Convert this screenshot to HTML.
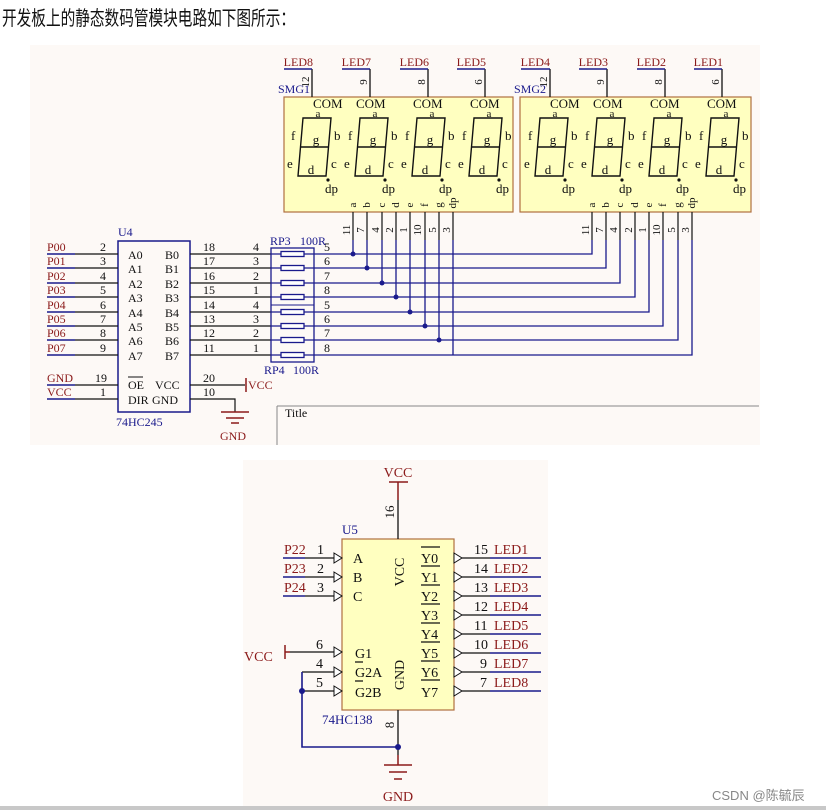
<!DOCTYPE html>
<html><head><meta charset="utf-8"><style>
html,body{margin:0;padding:0;background:#fff;}
svg{display:block;}
text{font-family:"Liberation Serif",serif;}
.r{fill:#8b1a1a;}
.b{fill:#1a1a8c;}
.k{fill:#111;}
</style></head><body>
<svg width="826" height="810" viewBox="0 0 826 810" xmlns="http://www.w3.org/2000/svg">
<rect width="826" height="810" fill="#fff"/>
<text x="2" y="25" font-size="20" textLength="293" lengthAdjust="spacingAndGlyphs" style="font-family:'Liberation Sans','Noto Sans CJK SC',sans-serif" fill="#111">开发板上的静态数码管模块电路如下图所示：</text>
<rect x="30" y="45" width="730" height="400" fill="#fdf9f6"/>
<rect x="243" y="460" width="305" height="346" fill="#fdf9f6"/>
<rect x="0" y="806" width="826" height="4" fill="#c8c8c8"/>
<text x="712" y="800" font-size="13" fill="#888" style="font-family:'Liberation Sans','Noto Sans CJK SC',sans-serif">CSDN @陈毓辰</text>

<!-- SMG boxes -->
<rect x="284" y="97" width="229" height="115" fill="#ffffc0" stroke="#b07040" stroke-width="1.2"/>
<rect x="520" y="97" width="231" height="115" fill="#ffffc0" stroke="#b07040" stroke-width="1.2"/>
<text x="278" y="93" font-size="12" class="b">SMG1</text>
<text x="514" y="93" font-size="12" class="b">SMG2</text>

<defs>
<g id="dg">
<path d="M0,118 L28,118 L25.5,147 L23,176 L-5,176 L-2.5,147 Z M-2.5,147 L25.5,147" fill="none" stroke="#111" stroke-width="1.4"/>
<text x="15" y="117" font-size="11" text-anchor="middle" class="k">a</text>
<text x="-12" y="140" font-size="13" class="k">f</text>
<text x="31" y="140" font-size="13" class="k">b</text>
<text x="13" y="144" font-size="13" text-anchor="middle" class="k">g</text>
<text x="-16" y="168" font-size="13" class="k">e</text>
<text x="28" y="168" font-size="13" class="k">c</text>
<text x="8" y="174" font-size="13" text-anchor="middle" class="k">d</text>
<circle cx="25" cy="180" r="1.6" fill="#111"/>
<text x="22" y="193" font-size="13" class="k">dp</text>
</g>
</defs>
<g>
<use href="#dg" x="303"/><use href="#dg" x="360"/><use href="#dg" x="417"/><use href="#dg" x="474"/>
<use href="#dg" x="540"/><use href="#dg" x="597"/><use href="#dg" x="654"/><use href="#dg" x="711"/>
</g>
<g font-size="13" class="k">
<text x="313" y="108" class="k">COM</text><text x="356" y="108" class="k">COM</text><text x="413" y="108" class="k">COM</text><text x="470" y="108" class="k">COM</text>
<text x="550" y="108" class="k">COM</text><text x="593" y="108" class="k">COM</text><text x="650" y="108" class="k">COM</text><text x="707" y="108" class="k">COM</text>
</g>
<g stroke="#111" stroke-width="1.3" fill="none">
<path d="M312,97V69"/><path d="M370,97V69"/><path d="M428,97V69"/><path d="M485,97V69"/>
<path d="M550,97V69"/><path d="M607,97V69"/><path d="M665,97V69"/><path d="M722,97V69"/>
</g>
<g stroke="#1a1a8c" stroke-width="1.5">
<path d="M284,69H312"/><path d="M342,69H370"/><path d="M400,69H428"/><path d="M457,69H485"/>
<path d="M521,69H550"/><path d="M579,69H607"/><path d="M637,69H665"/><path d="M694,69H722"/>
</g>
<g font-size="12" class="r" text-anchor="end">
<text x="313" y="66">LED8</text><text x="371" y="66">LED7</text><text x="429" y="66">LED6</text><text x="486" y="66">LED5</text>
<text x="550" y="66">LED4</text><text x="608" y="66">LED3</text><text x="666" y="66">LED2</text><text x="723" y="66">LED1</text>
</g>
<g font-size="11" class="k" text-anchor="middle">
<text transform="translate(309,82) rotate(-90)">12</text><text transform="translate(367,82) rotate(-90)">9</text><text transform="translate(425,82) rotate(-90)">8</text><text transform="translate(482,82) rotate(-90)">6</text>
<text transform="translate(547,82) rotate(-90)">12</text><text transform="translate(604,82) rotate(-90)">9</text><text transform="translate(662,82) rotate(-90)">8</text><text transform="translate(719,82) rotate(-90)">6</text>
</g>

<g font-size="11" class="k" text-anchor="middle">
<text transform="translate(356,205) rotate(-90)">a</text><text transform="translate(370,205) rotate(-90)">b</text><text transform="translate(385,205) rotate(-90)">c</text><text transform="translate(399,205) rotate(-90)">d</text>
<text transform="translate(413,205) rotate(-90)">e</text><text transform="translate(428,205) rotate(-90)">f</text><text transform="translate(442,205) rotate(-90)">g</text><text transform="translate(456,203) rotate(-90)">dp</text>
<text transform="translate(595,205) rotate(-90)">a</text><text transform="translate(609,205) rotate(-90)">b</text><text transform="translate(623,205) rotate(-90)">c</text><text transform="translate(638,205) rotate(-90)">d</text>
<text transform="translate(652,205) rotate(-90)">e</text><text transform="translate(666,205) rotate(-90)">f</text><text transform="translate(681,205) rotate(-90)">g</text><text transform="translate(695,203) rotate(-90)">dp</text>
<text transform="translate(350,230) rotate(-90)">11</text><text transform="translate(364,230) rotate(-90)">7</text><text transform="translate(379,230) rotate(-90)">4</text><text transform="translate(393,230) rotate(-90)">2</text>
<text transform="translate(407,230) rotate(-90)">1</text><text transform="translate(421,230) rotate(-90)">10</text><text transform="translate(436,230) rotate(-90)">5</text><text transform="translate(450,230) rotate(-90)">3</text>
<text transform="translate(589,230) rotate(-90)">11</text><text transform="translate(603,230) rotate(-90)">7</text><text transform="translate(617,230) rotate(-90)">4</text><text transform="translate(632,230) rotate(-90)">2</text>
<text transform="translate(646,230) rotate(-90)">1</text><text transform="translate(660,230) rotate(-90)">10</text><text transform="translate(675,230) rotate(-90)">5</text><text transform="translate(689,230) rotate(-90)">3</text>
</g>
<g stroke="#111" stroke-width="1.2">
<path d="M353,212V240M367,212V240M382,212V240M396,212V240M410,212V240M425,212V240M439,212V240M453,212V240"/>
<path d="M592,212V240M606,212V240M620,212V240M635,212V240M649,212V240M663,212V240M678,212V240M692,212V240"/>
</g>
<g stroke="#1a1a8c" stroke-width="1.3" fill="none">
<path d="M353,240V254M367,240V268M382,240V283M396,240V297M410,240V312M425,240V326M439,240V340M453,240V355"/>
<path d="M314,254H592V240M314,268H606V240M314,283H620V240M314,297H635V240M314,312H649V240M314,326H663V240M314,340H678V240M314,355H692V240"/>
</g>
<g fill="#1a1a8c">
<circle cx="353" cy="254" r="2.5"/><circle cx="367" cy="268" r="2.5"/><circle cx="382" cy="283" r="2.5"/><circle cx="396" cy="297" r="2.5"/>
<circle cx="410" cy="312" r="2.5"/><circle cx="425" cy="326" r="2.5"/><circle cx="439" cy="340" r="2.5"/>
</g>

<!-- U4 -->
<rect x="118" y="241" width="72" height="171" fill="none" stroke="#1a1a8c" stroke-width="1.5"/>
<text x="118" y="236" font-size="12" class="b">U4</text>
<text x="116" y="426" font-size="12" class="b">74HC245</text>
<g stroke="#111" stroke-width="1.2" fill="none">
<path d="M75,254H118M75,268H118M75,283H118M75,297H118M75,312H118M75,326H118M75,340H118M75,355H118M75,385H118M75,399H118"/>
<path d="M190,254H271M190,268H271M190,283H271M190,297H271M190,312H271M190,326H271M190,340H271M190,355H271"/>
<path d="M190,385H245M190,399H235V412"/>
</g>
<g stroke="#1a1a8c" stroke-width="1.5">
<path d="M47,254H75M47,268H75M47,283H75M47,297H75M47,312H75M47,326H75M47,340H75M47,355H75M47,385H75M47,399H75"/>
</g>
<g font-size="12" class="r">
<text x="47" y="251">P00</text><text x="47" y="265">P01</text><text x="47" y="280">P02</text><text x="47" y="294">P03</text>
<text x="47" y="309">P04</text><text x="47" y="323">P05</text><text x="47" y="337">P06</text><text x="47" y="352">P07</text>
<text x="47" y="382">GND</text><text x="47" y="396">VCC</text>
</g>
<g font-size="12" class="k" text-anchor="middle">
<text x="103" y="251">2</text><text x="103" y="265">3</text><text x="103" y="280">4</text><text x="103" y="294">5</text>
<text x="103" y="309">6</text><text x="103" y="323">7</text><text x="103" y="337">8</text><text x="103" y="352">9</text>
<text x="101" y="382">19</text><text x="103" y="396">1</text>
<text x="209" y="251">18</text><text x="209" y="265">17</text><text x="209" y="280">16</text><text x="209" y="294">15</text>
<text x="209" y="309">14</text><text x="209" y="323">13</text><text x="209" y="337">12</text><text x="209" y="352">11</text>
<text x="209" y="382">20</text><text x="209" y="396">10</text>
<text x="256" y="251">4</text><text x="256" y="265">3</text><text x="256" y="280">2</text><text x="256" y="294">1</text>
<text x="256" y="309">4</text><text x="256" y="323">3</text><text x="256" y="337">2</text><text x="256" y="352">1</text>
<text x="327" y="251">5</text><text x="327" y="265">6</text><text x="327" y="280">7</text><text x="327" y="294">8</text>
<text x="327" y="309">5</text><text x="327" y="323">6</text><text x="327" y="337">7</text><text x="327" y="352">8</text>
</g>
<g font-size="12" class="k">
<text x="128" y="259">A0</text><text x="128" y="273">A1</text><text x="128" y="288">A2</text><text x="128" y="302">A3</text>
<text x="128" y="317">A4</text><text x="128" y="331">A5</text><text x="128" y="345">A6</text><text x="128" y="360">A7</text>
<text x="165" y="259">B0</text><text x="165" y="273">B1</text><text x="165" y="288">B2</text><text x="165" y="302">B3</text>
<text x="165" y="317">B4</text><text x="165" y="331">B5</text><text x="165" y="345">B6</text><text x="165" y="360">B7</text>
<text x="128" y="389">OE</text><text x="155" y="389">VCC</text>
<text x="128" y="404">DIR</text><text x="152" y="404">GND</text>
</g>
<path d="M128,377H143" stroke="#111" stroke-width="1"/>
<path d="M246,378V392" stroke="#8b1a1a" stroke-width="1.5"/>
<text x="248" y="389" font-size="12" class="r">VCC</text>
<g stroke="#8b1a1a" stroke-width="1.5"><path d="M221,412H249M226,418H244M231,423H239"/></g>
<text x="220" y="440" font-size="12" class="r">GND</text>
<!-- RP -->
<rect x="271" y="248" width="43" height="114" fill="none" stroke="#1a1a8c" stroke-width="1.3"/>
<path d="M271,305H314" stroke="#1a1a8c" stroke-width="1"/>
<g fill="#fff" stroke="#1a1a8c" stroke-width="1.3">
<rect x="281" y="251.5" width="23" height="5"/><rect x="281" y="265.5" width="23" height="5"/><rect x="281" y="280.5" width="23" height="5"/><rect x="281" y="294.5" width="23" height="5"/>
<rect x="281" y="309.5" width="23" height="5"/><rect x="281" y="323.5" width="23" height="5"/><rect x="281" y="337.5" width="23" height="5"/><rect x="281" y="352.5" width="23" height="5"/>
</g>
<g stroke="#1a1a8c" stroke-width="1.2"><path d="M271,254H281M304,254H314M271,268H281M304,268H314M271,283H281M304,283H314M271,297H281M304,297H314M271,312H281M304,312H314M271,326H281M304,326H314M271,340H281M304,340H314M271,355H281M304,355H314"/></g>
<text x="270" y="245" font-size="12" class="b">RP3</text><text x="300" y="245" font-size="12" class="b">100R</text>
<text x="264" y="374" font-size="12" class="b">RP4</text><text x="293" y="374" font-size="12" class="b">100R</text>
<path d="M277,406V445M277,406H759" stroke="#888" stroke-width="1"/>
<text x="285" y="417" font-size="12" class="k">Title</text>

<!-- U5 -->
<rect x="342" y="539" width="112" height="171" fill="#ffffc0" stroke="#b07040" stroke-width="1.2"/>
<text x="342" y="534" font-size="13" class="b">U5</text>
<text x="322" y="724" font-size="13" class="b">74HC138</text>
<path d="M398,539V500" stroke="#111" stroke-width="1.3"/>
<path d="M398,500V482M389,482H408" stroke="#8b1a1a" stroke-width="1.5"/>
<text x="398" y="477" font-size="14" text-anchor="middle" class="r">VCC</text>
<text transform="translate(394,512) rotate(-90)" font-size="13" text-anchor="middle" class="k">16</text>
<g stroke="#111" stroke-width="1.3" fill="none">
<path d="M305,558H334M305,577H334M305,596H334M290,652H334M302,672H334M302,691H334"/>
<path d="M462,558H490M462,577H490M462,596H490M462,615H490M462,634H490M462,653H490M462,672H490M462,691H490"/>
<path d="M398,710V747V755"/>
</g>
<g stroke="#8b1a1a" stroke-width="1.5" fill="none"><path d="M285,645V659M285,652H290"/><path d="M384,765H412M389,772H407M394,779H402"/></g>
<g fill="#fff" stroke="#111" stroke-width="1">
<path d="M334,553L342,558L334,563Z"/><path d="M334,572L342,577L334,582Z"/><path d="M334,591L342,596L334,601Z"/>
<path d="M334,647L342,652L334,657Z"/><path d="M334,667L342,672L334,677Z"/><path d="M334,686L342,691L334,696Z"/>
<path d="M454,553L462,558L454,563Z"/><path d="M454,572L462,577L454,582Z"/><path d="M454,591L462,596L454,601Z"/><path d="M454,610L462,615L454,620Z"/>
<path d="M454,629L462,634L454,639Z"/><path d="M454,648L462,653L454,658Z"/><path d="M454,667L462,672L454,677Z"/><path d="M454,686L462,691L454,696Z"/>
</g>
<path d="M398,755V765" stroke="#8b1a1a" stroke-width="1.5"/>
<g stroke="#1a1a8c" stroke-width="1.6" fill="none">
<path d="M283,558H305M283,577H305M283,596H305"/>
<path d="M490,558H541M490,577H541M490,596H541M490,615H541M490,634H541M490,653H541M490,672H541M490,691H541"/>
<path d="M302,672V747H398"/>
</g>
<circle cx="302" cy="691" r="3" fill="#1a1a8c"/><circle cx="398" cy="747" r="3" fill="#1a1a8c"/>
<text x="398" y="801" font-size="14" text-anchor="middle" class="r">GND</text>
<text x="244" y="661" font-size="14" class="r">VCC</text>
<g font-size="14" class="r"><text x="284" y="554">P22</text><text x="284" y="573">P23</text><text x="284" y="592">P24</text></g>
<g font-size="14" class="k">
<text x="317" y="554">1</text><text x="317" y="573">2</text><text x="317" y="592">3</text>
<text x="316" y="649">6</text><text x="316" y="668">4</text><text x="316" y="687">5</text>
<text x="353" y="563">A</text><text x="353" y="582">B</text><text x="353" y="601">C</text>
<text x="355" y="658">G1</text><text x="355" y="677">G2A</text><text x="355" y="697">G2B</text>
<text x="421" y="563">Y0</text><text x="421" y="582">Y1</text><text x="421" y="601">Y2</text><text x="421" y="620">Y3</text>
<text x="421" y="639">Y4</text><text x="421" y="658">Y5</text><text x="421" y="677">Y6</text><text x="421" y="697">Y7</text>
<text x="474" y="554">15</text><text x="474" y="573">14</text><text x="474" y="592">13</text><text x="474" y="611">12</text>
<text x="474" y="630">11</text><text x="474" y="649">10</text><text x="480" y="668">9</text><text x="480" y="687">7</text>
</g>
<g font-size="14" class="r">
<text x="494" y="554">LED1</text><text x="494" y="573">LED2</text><text x="494" y="592">LED3</text><text x="494" y="611">LED4</text>
<text x="494" y="630">LED5</text><text x="494" y="649">LED6</text><text x="494" y="668">LED7</text><text x="494" y="687">LED8</text>
</g>
<g stroke="#111" stroke-width="1.3">
<path d="M421,547H440M421,566H440M421,585H440M421,604H440M421,623H440M421,642H440M421,661H440M421,680H440"/>
<path d="M355,662H363M355,681H363"/>
</g>
<text transform="translate(404,572) rotate(-90)" font-size="14" text-anchor="middle" class="k">VCC</text>
<text transform="translate(404,675) rotate(-90)" font-size="14" text-anchor="middle" class="k">GND</text>
<text transform="translate(394,725) rotate(-90)" font-size="13" text-anchor="middle" class="k">8</text>
</svg>
</body></html>
